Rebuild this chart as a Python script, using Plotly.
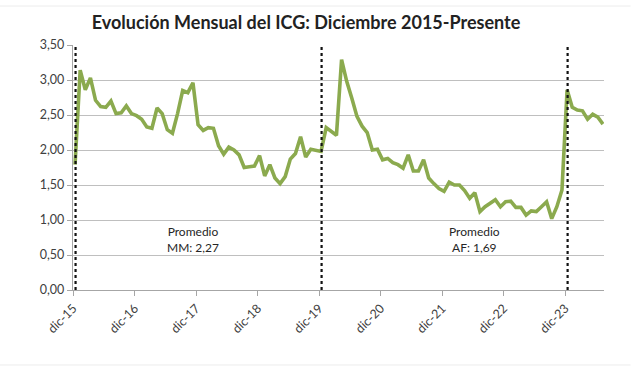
import plotly.graph_objects as go

# Monthly ICG values, Dec 2015 .. Jul 2024
icg = [
    1.79, 3.14, 2.86, 3.03, 2.71, 2.62, 2.61, 2.70, 2.52, 2.53, 2.63, 2.52,   # dic-15 .. nov-16
    2.49, 2.44, 2.33, 2.31, 2.60, 2.52, 2.29, 2.24, 2.52, 2.85, 2.82, 2.96,   # dic-16 .. nov-17
    2.36, 2.28, 2.32, 2.31, 2.06, 1.94, 2.04, 2.00, 1.93, 1.75, 1.76, 1.77,   # dic-17 .. nov-18
    1.92, 1.63, 1.79, 1.60, 1.52, 1.62, 1.87, 1.95, 2.19, 1.90, 2.01, 1.99,   # dic-18 .. nov-19
    1.98, 2.32, 2.27, 2.21, 3.29, 2.98, 2.74, 2.48, 2.34, 2.25, 2.00, 2.01,   # dic-19 .. nov-20
    1.86, 1.88, 1.82, 1.79, 1.74, 1.93, 1.70, 1.70, 1.86, 1.60, 1.52, 1.45,   # dic-20 .. nov-21
    1.41, 1.54, 1.50, 1.50, 1.42, 1.31, 1.39, 1.12, 1.19, 1.24, 1.29, 1.19,   # dic-21 .. nov-22
    1.26, 1.27, 1.18, 1.18, 1.07, 1.13, 1.12, 1.19, 1.26, 1.02, 1.19, 1.43,   # dic-22 .. nov-23
    2.86, 2.61, 2.57, 2.56, 2.44, 2.51, 2.47, 2.37,                           # dic-23 .. jul-24
]
month_index = list(range(len(icg)))

tick_labels = ["dic-15", "dic-16", "dic-17", "dic-18", "dic-19",
               "dic-20", "dic-21", "dic-22", "dic-23"]
tick_positions = [12 * k - 0.35 for k in range(len(tick_labels))]

period_marks = [0, 48, 96]          # dic-15, dic-19, dic-23
avg_labels = ["Promedio<br>MM: 2,27", "Promedio<br>AF: 1,69"]
avg_label_x = [23.1, 78.0]
avg_label_y = [0.72, 0.72]

title = "Evolución Mensual del ICG: Diciembre 2015-Presente"

fig = go.Figure()
fig.add_trace(go.Scatter(
    x=month_index, y=icg, mode="lines",
    line=dict(color="#8BAA4E", width=3.6),
    hoverinfo="y", showlegend=False,
))

for m in period_marks:
    fig.add_shape(type="line", x0=m + 0.1, x1=m + 0.1, y0=0, y1=3.5,
                  xref="x", yref="y",
                  line=dict(color="#111111", width=2.2, dash="dot"))

for txt, ax, ay in zip(avg_labels, avg_label_x, avg_label_y):
    fig.add_annotation(x=ax, y=ay, xref="x", yref="y", text=txt,
                       showarrow=False, align="center",
                       font=dict(family="Lato", size=12, color="#262626"))

# faint chart frame lines (top and bottom of the chart box)
for yy in [1.159, -0.306]:
    fig.add_shape(type="line", xref="paper", yref="paper",
                  x0=-0.14, x1=1.05, y0=yy, y1=yy, layer="below",
                  line=dict(color="#ececec", width=1))

fig.update_layout(
    width=631, height=371,
    margin=dict(l=73, r=27, t=45, b=81),
    paper_bgcolor="white", plot_bgcolor="white",
    separators=",.",
    title=dict(text="<b>" + title + "</b>", x=0.485, xanchor="center",
               y=0.94, yanchor="middle",
               font=dict(family="Lato", size=18, color="#222222")),
    xaxis=dict(range=[-0.4, 103.2], tickvals=tick_positions, ticktext=tick_labels,
               tickangle=-45, showgrid=False, zeroline=False,
               showline=True, linecolor="#a6a6a6", linewidth=1.3,
               ticks="outside", ticklen=5, tickcolor="#a6a6a6",
               tickfont=dict(family="Lato", size=12.5, color="#404040")),
    yaxis=dict(range=[0, 3.5], dtick=0.5, tickformat=".2f",
               showgrid=True, gridcolor="#bfbfbf", gridwidth=1.3,
               zeroline=False, showline=True, linecolor="#a6a6a6", linewidth=1.3,
               ticks="outside", ticklen=5, tickcolor="#a6a6a6",
               tickfont=dict(family="Lato", size=12.5, color="#404040")),
)

fig.write_html("out.html",
               config={"displayModeBar": False},
               post_script="document.body.style.margin='0px';document.body.style.overflow='hidden';")
